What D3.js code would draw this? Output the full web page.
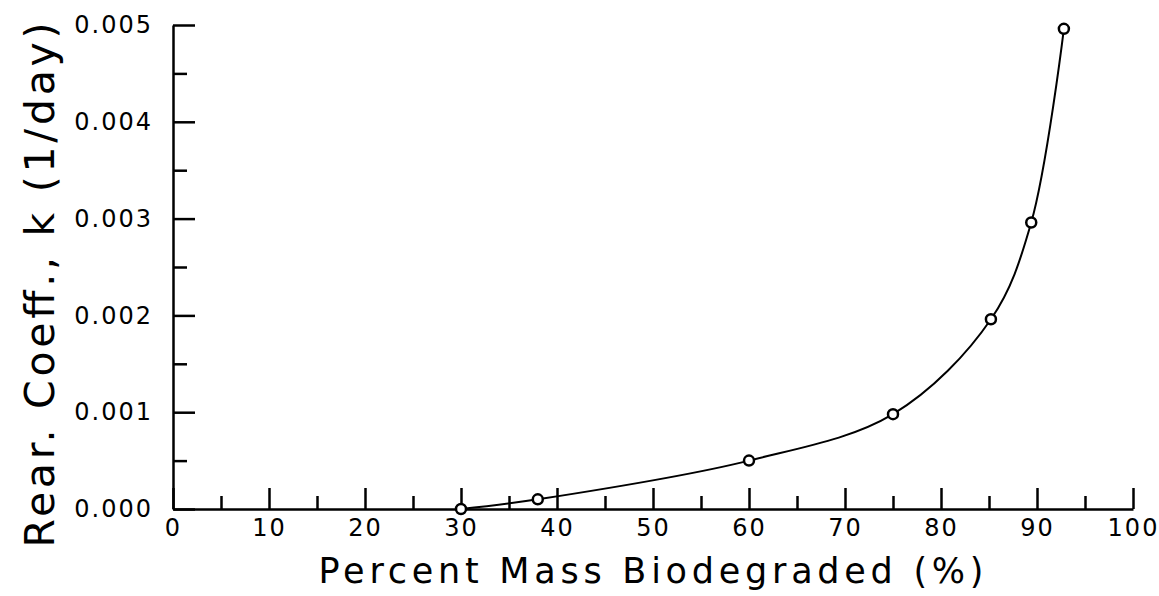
<!DOCTYPE html>
<html lang="en">
<head>
	<meta charset="utf-8">
	<title>Rear. Coeff. vs Percent Mass Biodegraded</title>
	<script type="text/javascript" src="https://d3js.org/d3.v7.min.js"></script>
	<style type="text/css">
	body{
		margin: 0;
		background: white;
	}
	.axis text{
		font-family: "DejaVu Sans", sans-serif;
		font-size: 24px;
		letter-spacing: 2px;
		fill: black;
	}
	.axis path,
	.axis line{
		fill: none;
		stroke: black;
		stroke-width: 2.5px;
	}
	.title{
		font-family: "DejaVu Sans", sans-serif;
		fill: black;
	}
	</style>
</head>
<body>
<script type="text/javascript">

// data
var pctDegraded = [30, 38, 60, 75, 85.2, 89.4, 92.8];
var rearCoeff = [0.0000, 0.0001, 0.0005, 0.00098, 0.00196, 0.00296, 0.00496];

var xMajorTicks = [0, 10, 20, 30, 40, 50, 60, 70, 80, 90, 100];
var xMinorTicks = [5, 15, 25, 35, 45, 55, 65, 75, 85, 95];
var yMajorTicks = [0, 0.001, 0.002, 0.003, 0.004, 0.005];
var yMinorTicks = [0.0005, 0.0015, 0.0025, 0.0035, 0.0045];

var xTitle = "Percent Mass Biodegraded (%)";
var yTitle = "Rear. Coeff., k (1/day)";

var w = 1159;
var h = 596;

var svg = d3.select("body")
            .append("svg")
            .attr("width", w)
            .attr("height", h);

var xScale = d3.scaleLinear()
         .domain([0, 100])
         .range([173, 1133]);

var yScale = d3.scaleLinear()
         .domain([0, 0.005])
         .range([509, 25]);

// minor ticks first, no domain line
svg.append("g")
   .attr("class", "axis")
   .attr("transform", "translate(0,509)")
   .call(d3.axisBottom(xScale).tickValues(xMinorTicks).tickSizeInner(-13).tickSizeOuter(0).tickFormat(""))
   .select(".domain").remove();

svg.append("g")
   .attr("class", "axis")
   .attr("transform", "translate(173,0)")
   .call(d3.axisLeft(yScale).tickValues(yMinorTicks).tickSizeInner(-14).tickSizeOuter(0).tickFormat(""))
   .select(".domain").remove();

var xAxis = d3.axisBottom(xScale)
              .tickValues(xMajorTicks)
              .tickSizeInner(-21)
              .tickSizeOuter(0)
              .tickPadding(10)
              .tickFormat(d3.format("d"));

var yAxis = d3.axisLeft(yScale)
              .tickValues(yMajorTicks)
              .tickSizeInner(-22)
              .tickSizeOuter(0)
              .tickPadding(20)
              .tickFormat(d3.format(".3f"));

svg.append("g")
   .attr("class", "axis")
   .attr("transform", "translate(0,509)")
   .call(xAxis);

svg.append("g")
   .attr("class", "axis")
   .attr("transform", "translate(173,0)")
   .call(yAxis);

// curve through the points
var points = pctDegraded.map(function(d, i){ return [d, rearCoeff[i]]; });

var line = d3.line()
             .x(function(d){ return xScale(d[0]); })
             .y(function(d){ return yScale(d[1]); })
             .curve(d3.curveCatmullRom.alpha(0.5));

svg.append("path")
   .datum(points)
   .attr("d", line)
   .attr("fill", "none")
   .attr("stroke", "black")
   .attr("stroke-width", 2);

svg.selectAll("circle")
   .data(points)
   .enter()
   .append("circle")
   .attr("cx", function(d){ return xScale(d[0]); })
   .attr("cy", function(d){ return yScale(d[1]); })
   .attr("r", 5)
   .attr("fill", "white")
   .attr("stroke", "black")
   .attr("stroke-width", 2.5);

// axis titles
svg.append("text")
   .attr("class", "title")
   .attr("x", 651)
   .attr("y", 583)
   .attr("text-anchor", "middle")
   .attr("font-size", 35)
   .attr("textLength", 665)
   .attr("lengthAdjust", "spacing")
   .text(xTitle);

svg.append("text")
   .attr("class", "title")
   .attr("transform", "translate(54,285) rotate(-90)")
   .attr("text-anchor", "middle")
   .attr("font-size", 41)
   .attr("textLength", 525)
   .attr("lengthAdjust", "spacing")
   .text(yTitle);

</script>
</body>
</html>
